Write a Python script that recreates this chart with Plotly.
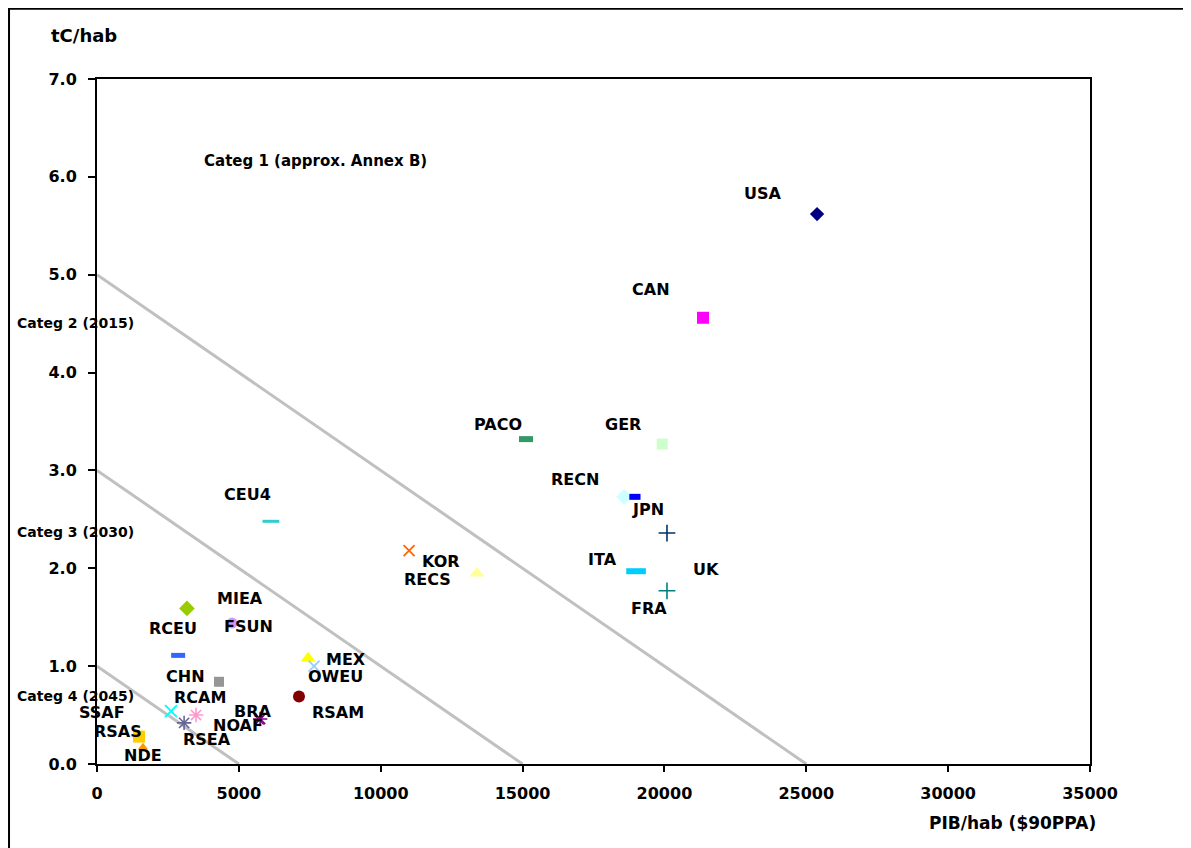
import plotly.graph_objects as go

# ---- data ----
regions = ["USA", "CAN", "PACO", "GER", "RECN", "JPN", "UK", "ITA", "FRA", "KOR",
           "RECS", "CEU4", "MIEA", "FSUN", "RCEU", "CHN", "MEX", "OWEU", "RSAM",
           "SSAF", "RCAM", "RSEA", "BRA", "NOAF", "RSAS", "NDE"]
gdp_per_cap = [25380, 21360, 15120, 19920, 18580, 18960, 20090, 19000, 20090, 11000,
               13390, 6130, 3170, 4760, 2860, 4300, 7440, 7650, 7120,
               2610, 3490, 3070, 5750, 5720, 1480, 1620]
tc_per_cap = [5.62, 4.56, 3.32, 3.27, 2.73, 2.73, 2.36, 1.97, 1.77, 2.18,
              1.95, 2.48, 1.59, 1.44, 1.11, 0.84, 1.08, 1.00, 0.69,
              0.54, 0.50, 0.42, 0.46, 0.45, 0.28, 0.17]

categ_y_intercepts = [5.0, 3.0, 1.0]
categ_x_intercepts = [25000, 15000, 5000]
categ_names = ["Categ 2 (2015)", "Categ 3 (2030)", "Categ 4 (2045)"]
x_ticks = [0, 5000, 10000, 15000, 20000, 25000, 30000, 35000]
y_ticks = [0, 1, 2, 3, 4, 5, 6, 7]

# ---- styles (symbol, color, size, line width) ----
styles = {
    "USA": ("diamond", "#000080", 11, 0),
    "CAN": ("square", "#FF00FF", 12, 0),
    "PACO": ("line-ew", "#339966", 10, 6),
    "GER": ("square", "#CCFFCC", 11, 0),
    "RECN": ("diamond", "#CCFFFF", 12, 0),
    "JPN": ("line-ew", "#0000FF", 8, 6),
    "UK": ("cross-thin", "#003366", 12, 1.6),
    "ITA": ("line-ew", "#00CCFF", 14, 6),
    "FRA": ("cross-thin", "#008080", 12, 1.6),
    "KOR": ("x-thin", "#FF6600", 11, 1.8),
    "RECS": ("triangle-up", "#FFFF99", 13, 0),
    "CEU4": ("line-ew", "#33CCCC", 12, 3),
    "MIEA": ("diamond", "#99CC00", 12, 0),
    "FSUN": ("circle", "#CC99FF", 11, 0),
    "RCEU": ("line-ew", "#3366FF", 10, 5),
    "CHN": ("square", "#969696", 10, 0),
    "MEX": ("triangle-up", "#FFFF00", 13, 0),
    "OWEU": ("x-thin", "#99CCFF", 11, 1.8),
    "RSAM": ("circle", "#800000", 12, 0),
    "SSAF": ("x-thin", "#00FFFF", 12, 2),
    "RCAM": ("asterisk", "#FF99CC", 12, 1.6),
    "RSEA": ("asterisk", "#666699", 12, 1.6),
    "BRA": ("asterisk", "#800080", 12, 1.6),
    "NOAF": ("x-thin", "#800080", 9, 1.2),
    "RSAS": ("square", "#FFCC00", 12, 0),
    "NDE": ("triangle-up", "#FF9900", 9, 0),
}
# label offsets in screen px (dx right, dy down)
label_offsets = {
    "USA": (-54, -21), "CAN": (-52, -28), "PACO": (-28, -15), "GER": (-39, -20),
    "RECN": (-49, -17), "JPN": (13, 13), "UK": (39, 36), "ITA": (-34, -12),
    "FRA": (-18, 18), "KOR": (32, 11), "RECS": (-49, 6), "CEU4": (-23, -27),
    "MIEA": (53, -10), "FSUN": (16, 3), "RCEU": (-5, -27), "CHN": (-34, -5),
    "MEX": (38, 1), "OWEU": (21, 10), "RSAM": (39, 16), "SSAF": (-69, 1),
    "RCAM": (4, -18), "RSEA": (23, 17), "BRA": (-7, -7), "NOAF": (-21, 6),
    "RSAS": (-21, -5), "NDE": (0, 8),
}

FONT = "DejaVu Sans"
fig = go.Figure()

# category threshold lines
for y0, x1 in zip(categ_y_intercepts, categ_x_intercepts):
    fig.add_trace(go.Scatter(x=[0, x1], y=[y0, 0], mode="lines",
                             line=dict(color="#C0C0C0", width=3),
                             hoverinfo="skip", showlegend=False))

# region markers
for name, gx, ty in zip(regions, gdp_per_cap, tc_per_cap):
    sym, col, size, lw = styles[name]
    fig.add_trace(go.Scatter(
        x=[gx], y=[ty], mode="markers", name=name, showlegend=False,
        marker=dict(symbol=sym, color=col, size=size,
                    line=dict(color=col, width=lw)),
        cliponaxis=False))

annotations = []
for name, gx, ty in zip(regions, gdp_per_cap, tc_per_cap):
    dx, dy = label_offsets[name]
    annotations.append(dict(x=gx, y=ty, xref="x", yref="y", text=name,
                            showarrow=False, xshift=dx, yshift=-dy,
                            font=dict(family=FONT, size=16, color="black", weight="bold")))

# category labels
categ_label_y = [0.644, 0.339, 0.099]
for txt, py in zip(categ_names, categ_label_y):
    annotations.append(dict(x=-0.083, y=py, xref="paper", yref="paper", text=txt,
                            showarrow=False, xanchor="left", yanchor="middle",
                            font=dict(family=FONT, size=14, color="black", weight="bold")))
annotations.append(dict(x=7700, y=6.16, xref="x", yref="y", text="Categ 1 (approx. Annex B)",
                        showarrow=False,
                        font=dict(family=FONT, size=15, color="black", weight="bold")))
# axis titles
annotations.append(dict(x=-0.048, y=1.064, xref="paper", yref="paper", text="tC/hab",
                        showarrow=False, xanchor="left", yanchor="middle",
                        font=dict(family=FONT, size=18, color="black", weight="bold")))
annotations.append(dict(x=1.008, y=-0.086, xref="paper", yref="paper", text="PIB/hab ($90PPA)",
                        showarrow=False, xanchor="right", yanchor="middle",
                        font=dict(family=FONT, size=17, color="black", weight="bold")))

fig.update_layout(
    width=1183, height=840,
    margin=dict(l=89, r=101, t=71, b=84),
    paper_bgcolor="white", plot_bgcolor="white",
    font=dict(family=FONT, size=16, color="black", weight="bold"),
    annotations=annotations,
    shapes=[dict(type="rect", xref="paper", yref="paper",
                 x0=-0.0886, x1=1.0967, y0=-0.14, y1=1.1026,
                 line=dict(color="black", width=2), fillcolor="rgba(0,0,0,0)", layer="below")],
    xaxis=dict(range=[0, 35000], tickvals=x_ticks, ticktext=[str(v) for v in x_ticks],
               showgrid=False, zeroline=False, showline=True, linecolor="black", linewidth=2,
               mirror=True, ticks="outside", ticklen=6, tickwidth=1.5, tickcolor="black",
               ticklabelstandoff=8,
               tickfont=dict(family=FONT, size=16, color="black", weight="bold")),
    yaxis=dict(range=[0, 7], tickvals=y_ticks, ticktext=[f"{v:.1f}" for v in y_ticks],
               showgrid=False, zeroline=False, showline=True, linecolor="black", linewidth=2,
               mirror=True, ticks="outside", ticklen=7, tickwidth=1.5, tickcolor="black",
               ticklabelstandoff=8,
               tickfont=dict(family=FONT, size=16, color="black", weight="bold")),
)

fig.write_html("out.html")
